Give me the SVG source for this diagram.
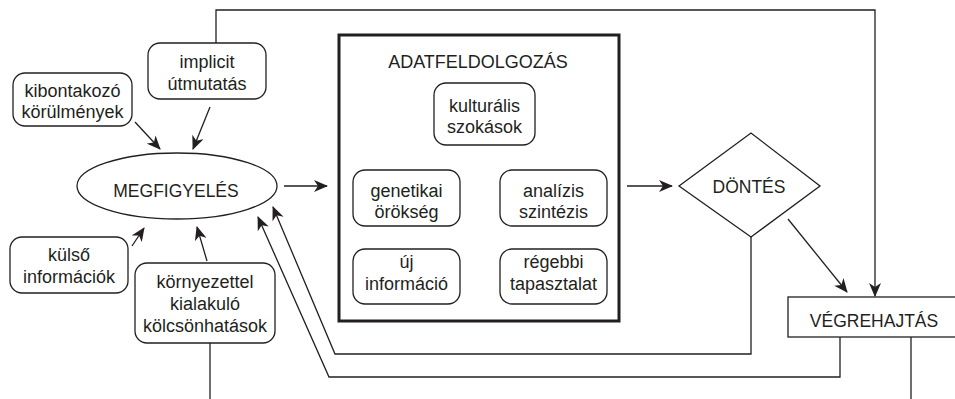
<svg xmlns="http://www.w3.org/2000/svg" width="955" height="399" viewBox="0 0 955 399">
<defs>
<marker id="ah" markerUnits="userSpaceOnUse" markerWidth="14" markerHeight="12" viewBox="0 0 14 12" refX="13" refY="6" orient="auto">
<path d="M0,0 L14,6 L0,12 L4,6 z" fill="#231f20"/>
</marker>
<style>
text{font-family:"Liberation Sans",Arial,sans-serif;fill:#231f20;text-anchor:middle}
.t{font-size:18px}
.c{font-size:17.5px}
.b{fill:#fff;stroke:#231f20;stroke-width:1.3}
.l{fill:none;stroke:#231f20;stroke-width:1.3}
.a{marker-end:url(#ah)}
</style>
</defs>
<rect width="955" height="399" fill="#fff"/>
<g id="connectors">
<polyline class="l a" points="216,43 216,10 875,10 875,296"/>
<polyline class="l a" points="751,237 751,354 335,354 273,207"/>
<polyline class="l a" points="840,337 840,377 329,377 258,217"/>
<line class="l" x1="210" y1="343" x2="210" y2="399"/>
<line class="l" x1="911" y1="337" x2="911" y2="399"/>
<line class="l a" x1="135" y1="122" x2="160" y2="149"/>
<line class="l a" x1="210" y1="107" x2="193" y2="149"/>
<line class="l a" x1="132" y1="246" x2="144" y2="228"/>
<line class="l a" x1="207" y1="261" x2="197" y2="227"/>
<line class="l a" x1="284" y1="186" x2="327" y2="186"/>
<line class="l a" x1="627" y1="186" x2="672" y2="186"/>
<line class="l a" x1="788" y1="219" x2="847" y2="292"/>
</g>
<g id="kibontakozo">
<rect class="b" x="13" y="73" width="119" height="53" rx="12"/>
<text class="t" x="72.5" y="97">kibontakozó</text>
<text class="t" x="72.5" y="118">körülmények</text>
</g>
<g id="implicit">
<rect class="b" x="148" y="43" width="118" height="56" rx="12"/>
<text class="t" x="207" y="68">implicit</text>
<text class="t" x="207" y="90">útmutatás</text>
</g>
<g id="kulso">
<rect class="b" x="10" y="237" width="118" height="56" rx="12"/>
<text class="t" x="69" y="261">külső</text>
<text class="t" x="69" y="283">információk</text>
</g>
<g id="kornyezettel">
<rect class="b" x="135" y="263" width="140" height="80" rx="12"/>
<text class="t" x="205" y="288">környezettel</text>
<text class="t" x="205" y="310">kialakuló</text>
<text class="t" x="205" y="332">kölcsönhatások</text>
</g>
<g id="megfigyeles">
<ellipse class="b" cx="177" cy="186" rx="100" ry="33"/>
<text class="c" x="176" y="197">MEGFIGYELÉS</text>
</g>
<g id="adatfeldolgozas">
<rect x="339" y="35" width="280" height="286" fill="#fff" stroke="#231f20" stroke-width="3"/>
<text class="t" x="478" y="68">ADATFELDOLGOZÁS</text>
</g>
<g id="kulturalis">
<rect class="b" x="434" y="83" width="101" height="62" rx="12"/>
<text class="t" x="484.5" y="112">kulturális</text>
<text class="t" x="484.5" y="133">szokások</text>
</g>
<g id="genetikai">
<rect class="b" x="353" y="170" width="107" height="56" rx="12"/>
<text class="t" x="406.5" y="197">genetikai</text>
<text class="t" x="406.5" y="218">örökség</text>
</g>
<g id="analizis">
<rect class="b" x="500" y="170" width="107" height="56" rx="12"/>
<text class="t" x="553.5" y="197">analízis</text>
<text class="t" x="553.5" y="218">szintézis</text>
</g>
<g id="uj">
<rect class="b" x="353" y="249" width="107" height="55" rx="12"/>
<text class="t" x="406.5" y="268">új</text>
<text class="t" x="406.5" y="290">információ</text>
</g>
<g id="regebbi">
<rect class="b" x="500" y="249" width="107" height="55" rx="12"/>
<text class="t" x="553.5" y="268">régebbi</text>
<text class="t" x="553.5" y="290">tapasztalat</text>
</g>
<g id="dontes">
<polygon class="b" points="679,186 751,133 820,186 751,237"/>
<text class="c" x="749" y="193">DÖNTÉS</text>
</g>
<g id="vegrehajtas">
<rect class="b" x="788" y="297" width="170" height="40"/>
<text class="c" x="874" y="327">VÉGREHAJTÁS</text>
</g>
</svg>
